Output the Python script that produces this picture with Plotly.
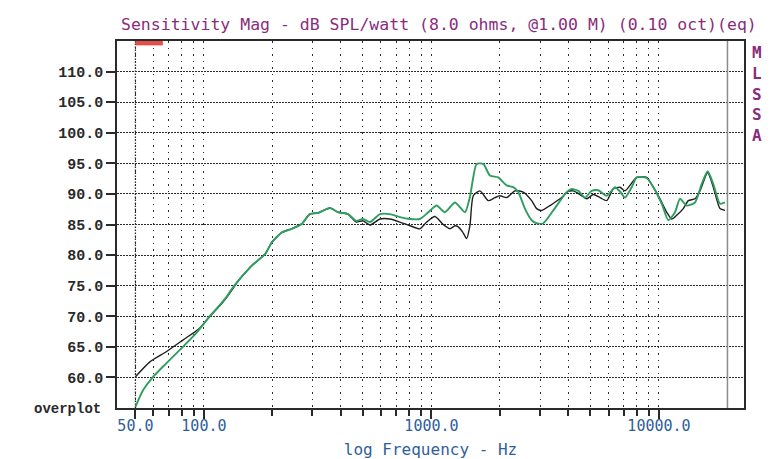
import plotly.graph_objects as go

# Measured sensitivity (dB SPL / watt @ 1 m), two overplotted responses
freq_black = [50, 57.7, 68.3, 80.8, 95.4, 105.6, 116, 124.8, 135.7, 142.3, 152.6, 162.6, 186, 199, 220, 243,
              269, 292, 318, 358, 389, 430, 467, 500, 537, 594, 657, 727, 805, 890, 953, 1036, 1127,
              1206, 1269, 1312, 1370, 1428, 1476, 1527, 1634, 1777, 1902, 2000, 2141, 2329, 2532, 2757,
              2900, 3051, 3319, 3672, 3994, 4203, 4496, 4813, 5143, 5505, 5893, 6300, 6742, 7092, 7982,
              8830, 9442, 10107, 10815, 11377, 11960, 12792, 13460, 14400, 15140, 16370, 17330, 18540,
              19500]
spl_black = [60.1, 62.5, 64.2, 66.1, 68.0, 69.9, 71.5, 72.9, 74.8, 75.9, 77.2, 78.3, 80.2, 82.1, 83.7, 84.3,
             85.1, 86.7, 86.9, 87.7, 87.0, 86.7, 85.4, 85.6, 84.9, 85.9, 85.9, 85.4, 84.8, 84.3, 85.4,
             86.3, 85.0, 84.3, 84.8, 84.6, 83.8, 82.7, 84.8, 89.7, 90.5, 88.9, 89.4, 89.7, 89.4, 90.5,
             90.3, 88.9, 87.6, 87.3, 88.1, 89.2, 90.4, 90.5, 89.9, 89.2, 89.9, 89.4, 88.9, 90.8, 91.1,
             90.5, 92.7, 92.7, 91.1, 89.2, 87.0, 85.9, 86.5, 87.6, 88.9, 89.2, 90.5, 93.5, 91.1, 87.6,
             87.3]

freq_green = [50, 54.0, 59.8, 68.3, 80.8, 92.3, 105.6, 116, 124.8, 133.5, 142.3, 152.6, 162.6, 186, 199,
              220, 243, 269, 292, 318, 358, 389, 430, 467, 500, 537, 594, 657, 727, 805, 890, 968, 1054,
              1146, 1269, 1404, 1476, 1580, 1690, 1808, 1966, 2141, 2290, 2407, 2575, 2757, 2900, 3101,
              3431, 3930, 4135, 4420, 4730, 5061, 5411, 5893, 6410, 6742, 7092, 7589, 7982, 8830, 9442,
              10281, 10990, 11758, 12370, 13240, 14400, 15400, 16370, 17330, 18540, 19500]
spl_green = [55.2, 57.9, 60.1, 62.3, 65.0, 67.2, 69.9, 71.6, 73.0, 74.6, 75.9, 77.2, 78.3, 80.2, 82.1,
             83.7, 84.3, 85.1, 86.7, 86.9, 87.7, 87.0, 86.7, 85.6, 85.9, 85.4, 86.7, 86.7, 86.2, 85.9,
             85.9, 87.0, 88.1, 87.0, 88.6, 87.0, 89.5, 94.9, 94.9, 93.0, 92.7, 91.4, 91.1, 90.3, 87.6,
             85.7, 85.2, 85.2, 87.3, 90.3, 90.8, 90.5, 89.4, 90.5, 90.6, 89.7, 91.1, 90.4, 89.4, 91.1,
             92.7, 92.6, 91.1, 88.4, 85.7, 87.0, 89.2, 88.1, 88.6, 91.6, 93.7, 91.6, 88.4, 88.6]

y_ticks = [60, 65, 70, 75, 80, 85, 90, 95, 100, 105, 110]
x_major = [50, 100, 1000, 10000]
x_major_text = ["50.0", "100.0", "1000.0", "10000.0"]
x_minor = [60, 70, 80, 90, 200, 300, 400, 500, 600, 700, 800, 900,
           2000, 3000, 4000, 5000, 6000, 7000, 8000, 9000]
data_limit_hz = 20000
cursor_span_hz = [50, 66]

TITLE = "Sensitivity Mag - dB SPL/watt (8.0 ohms, @1.00 M) (0.10 oct)(eq)"
PURPLE = "#8a2c7c"
BLUE = "#2f5e9c"
INK = "#2a2a2a"
MONO = "DejaVu Sans Mono"
BOLDMONO = "Liberation Mono"

fig = go.Figure()
fig.add_trace(go.Scatter(x=freq_black, y=spl_black, mode="lines",
                         line=dict(color="#1e1e1e", width=1.4, shape="spline", smoothing=0.6),
                         showlegend=False, hoverinfo="skip"))
fig.add_trace(go.Scatter(x=freq_green, y=spl_green, mode="lines",
                         line=dict(color="#2e9e5e", width=1.9, shape="spline", smoothing=0.6),
                         showlegend=False, hoverinfo="skip"))

# dense dotted line on the first frequency grid line
fig.add_shape(type="line", xref="x", yref="paper", x0=x_major[0], x1=x_major[0], y0=0, y1=1,
              line=dict(color=INK, width=1.3, dash="1.5px,1.5px"), layer="below")
# end-of-data marker
fig.add_shape(type="line", xref="x", yref="paper", x0=data_limit_hz, x1=data_limit_hz, y0=0, y1=1,
              line=dict(color="#8c8c8c", width=1.5))
# cursor bar along the top edge
fig.add_shape(type="rect", xref="x", yref="paper", x0=cursor_span_hz[0], x1=cursor_span_hz[1],
              y0=0.988, y1=1.0, line=dict(width=0), fillcolor="#e0504a")

fig.update_xaxes(
    type="log", range=[1.618, 4.3737], automargin=False,
    tickmode="array", tickvals=x_major, ticktext=x_major_text,
    ticks="outside", ticklen=9, tickwidth=1.5, tickcolor=INK,
    ticklabelstandoff=-6,
    tickfont=dict(family=MONO, size=15, color=BLUE),
    showgrid=True, gridcolor=INK, gridwidth=1.3, griddash="1.5px,5px",
    minor=dict(tickmode="array", tickvals=x_minor, ticks="outside", ticklen=6, tickwidth=1.5,
               tickcolor=INK, showgrid=True, gridcolor=INK, gridwidth=1.3, griddash="1.5px,5px"),
    showline=True, linecolor=INK, linewidth=1.6, mirror=True, zeroline=False,
    title=dict(text="log Frequency - Hz", font=dict(family=MONO, size=16, color=BLUE), standoff=10),
)
fig.update_yaxes(
    range=[55, 115], automargin=False,
    tickmode="array", tickvals=y_ticks, tickformat=".1f",
    ticks="outside", ticklen=9, tickwidth=1.5, tickcolor=INK,
    tickfont=dict(family=BOLDMONO, size=15, color=INK, weight="bold"),
    showgrid=True, gridcolor=INK, gridwidth=1.3, griddash="1.5px,1.5px",
    showline=True, linecolor=INK, linewidth=1.6, mirror=True, zeroline=False,
)

fig.add_annotation(text=TITLE, xref="paper", yref="paper", x=0.513, y=1.0, yshift=5,
                   xanchor="center", yanchor="bottom", showarrow=False,
                   font=dict(family=MONO, size=16.5, color=PURPLE))
fig.add_annotation(text="M<br>L<br>S<br>S<br>A", xref="paper", yref="paper", x=1.0, y=1.0,
                   xshift=6, yshift=0, xanchor="left", yanchor="top", showarrow=False, align="center",
                   font=dict(family=MONO, size=16, color=PURPLE, weight="bold"))
fig.add_annotation(text="<b>overplot</b>", xref="paper", yref="paper", x=0, y=0, xshift=-14,
                   yshift=-1, xanchor="right", yanchor="middle", showarrow=False,
                   font=dict(family=BOLDMONO, size=14, color=INK))

fig.update_layout(
    width=777, height=459,
    margin=dict(l=117, r=33, t=41, b=51),
    paper_bgcolor="white", plot_bgcolor="white",
    showlegend=False,
)

fig.write_html("out.html")
